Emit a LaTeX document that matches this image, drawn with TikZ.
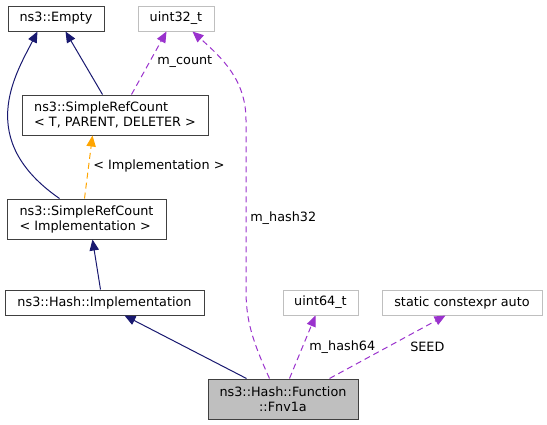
\documentclass[tikz,border=0pt]{standalone}
\usepackage{fontspec}
\setmainfont{DejaVu Sans}
\usetikzlibrary{arrows.meta,calc}
\definecolor{inhnavy}{RGB}{25,25,112}
\definecolor{usepurple}{RGB}{154,50,205}
\definecolor{tmplorange}{RGB}{255,165,0}
\definecolor{boxgray}{RGB}{191,191,191}
\definecolor{boxedge}{RGB}{64,64,64}
\begin{document}
\begin{tikzpicture}[x=0.75pt,y=-0.75pt,
  font=\fontsize{9.6pt}{11.25pt}\selectfont,
  cls/.style={draw=boxedge,line width=0.75pt,inner sep=0pt,minimum height=18.75pt},
  ext/.style={draw=boxgray,line width=0.75pt,inner sep=0pt,minimum height=18.75pt},
  tall/.style={minimum height=30pt},
  inh/.style={draw=inhnavy,line width=0.75pt,-{Triangle[length=8.25pt,width=7pt]}},
  use/.style={draw=usepurple,line width=0.75pt,dash pattern=on 4.5pt off 3pt,
    -{Triangle[length=8.25pt,width=7pt,fill=usepurple]}},
  tmpl/.style={draw=tmplorange,line width=0.75pt,dash pattern=on 4.5pt off 3pt,
    -{Triangle[length=8.25pt,width=7pt,fill=tmplorange]}},
  lbl/.style={anchor=west,inner sep=0pt}]
\useasboundingbox(0,0)rectangle(547,425);
\node[cls,minimum width=72pt](empty)at(56,18.5){ns3::Empty};
\node[ext,minimum width=57pt](uint32)at(176,18.5){uint32\_t};
\node[cls,tall,minimum width=139.5pt,align=left](srcT)at(115,115)
  {ns3::SimpleRefCount\\< T, PARENT, DELETER >};
\node[cls,tall,minimum width=119.25pt,align=left](srcI)at(86.5,219)
  {ns3::SimpleRefCount\\< Implementation >};
\node[cls,minimum width=149.25pt](impl)at(104.5,302.5){ns3::Hash::Implementation};
\node[ext,minimum width=56.25pt](uint64)at(320.5,302.5){uint64\_t};
\node[ext,minimum width=120pt](seed)at(462,302.5){static constexpr auto};
\node[cls,tall,fill=boxgray,minimum width=112.5pt,align=center](fnv)at(283,399)
  {ns3::Hash::Function\\::Fnv1a};
% inheritance
\draw[inh]($(srcI.north west)+(53,0)$)..controls(-25,140)and(15,75)..($(empty.south west)+(30,0)$);
\draw[inh]($(srcT.north west)+(81,0)$)--($(empty.south west)+(58,0)$);
\draw[inh]($(impl.north west)+(96,0)$)--($(srcI.south west)+(86,0)$);
\draw[inh]($(fnv.north west)+(39,0)$)--($(impl.south west)+(120,0)$);
\draw[tmpl]($(srcI.north west)+(78,0)$)--($(srcT.south west)+(71,0)$);
% members
\draw[use]($(srcT.north west)+(110,0)$)--($(uint32.south west)+(29,0)$);
\draw[use]($(fnv.north west)+(62,0)$)..controls(252,340)and(246,320)..(246,290)
  --(246,120)..controls(246,80)and(222,58)..($(uint32.south west)+(55,0)$);
\draw[use]($(fnv.north west)+(82,0)$)--($(uint64.south west)+(33,0)$);
\draw[use]($(fnv.north west)+(122,0)$)--($(seed.south west)+(64,0)$);
\node[lbl](lcount)at(157,62){m\_count};
\node[lbl](limpl)at(93,166){< Implementation >};
\node[lbl](lh32)at(250,218){m\_hash32};
\node[lbl](lh64)at(309,347){m\_hash64};
\node[lbl](lseed)at(410,347){SEED};
\end{tikzpicture}
\end{document}
